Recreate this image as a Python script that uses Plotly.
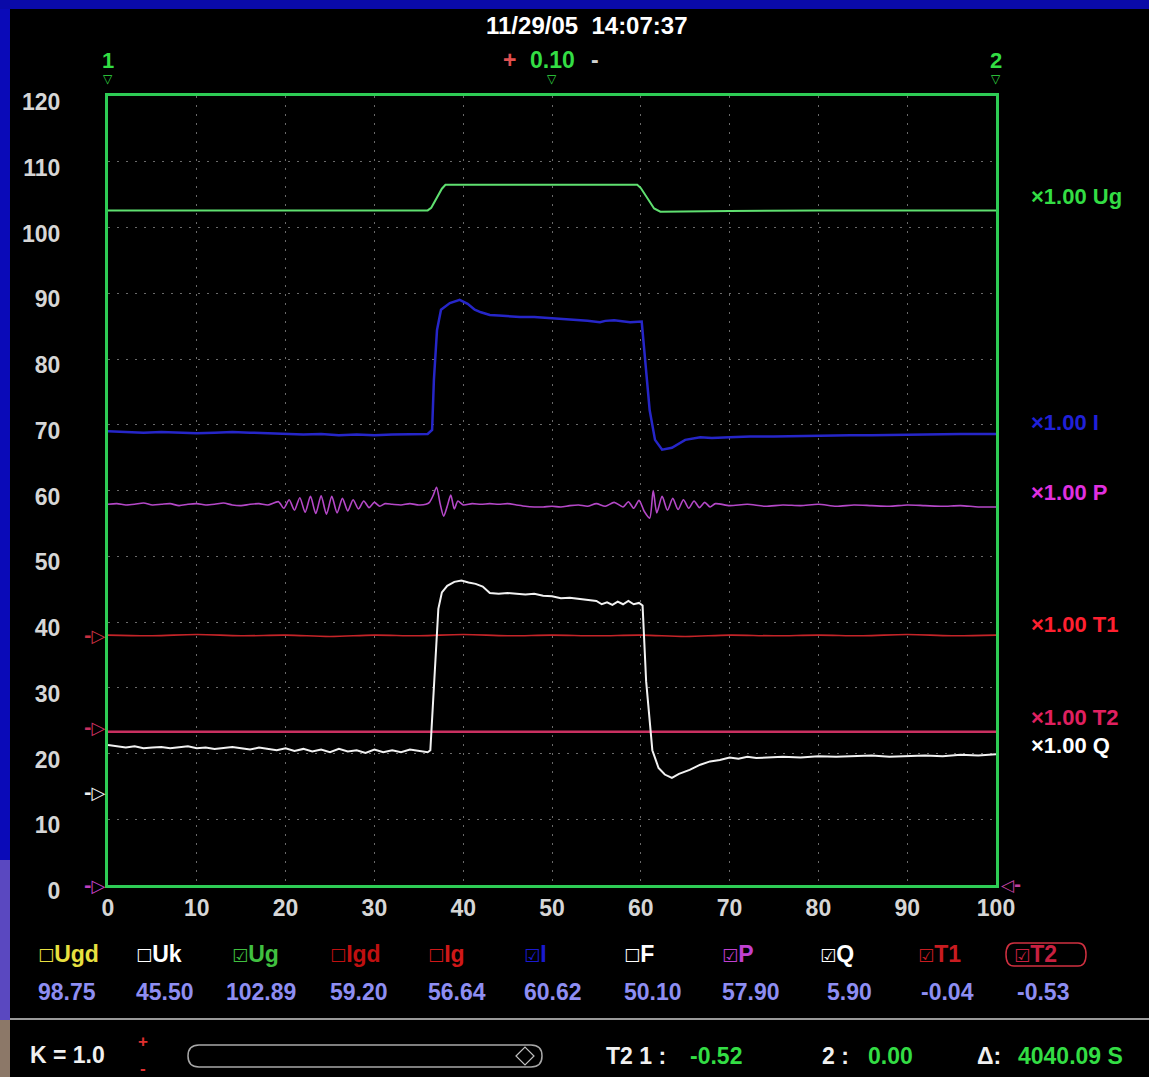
import plotly.graph_objects as go

# ---------------- data ----------------
x_ticks = [0, 10, 20, 30, 40, 50, 60, 70, 80, 90, 100]
y_ticks = [0, 10, 20, 30, 40, 50, 60, 70, 80, 90, 100, 110, 120]

ug_t = [0, 10, 20, 30, 36, 36.4, 36.8, 37.2, 37.6, 38.0, 40, 50, 59.6, 60.0, 60.5, 61.0, 61.5, 62.2, 65, 70, 80, 90, 100]
ug_v = [102.6, 102.6, 102.6, 102.6, 102.6, 103.0, 104.0, 105.0, 105.9, 106.5, 106.5, 106.5, 106.5, 106.0, 105.0, 103.8, 102.9, 102.4, 102.4, 102.5, 102.6, 102.6, 102.6]

i_t = [0, 2, 4, 6, 8, 10, 12, 14, 16, 18, 20, 22, 24, 26, 28, 30, 32, 34, 36,
       36.5, 36.7, 37.05, 37.5, 38.5, 39.6, 40.5, 41.3, 42, 43, 44, 46.4, 48, 50, 52, 53.2, 54, 55.4, 56, 57,
       58, 58.8, 60.1, 60.5, 61, 61.6, 62.4, 63.5, 65, 66.7, 68, 70, 72.3, 75, 78, 80, 83.6, 86, 90, 93, 96, 100]
i_v = [69.0, 68.9, 68.8, 68.9, 68.8, 68.7, 68.8, 68.9, 68.8, 68.7, 68.6, 68.5, 68.6, 68.4, 68.5, 68.4, 68.5, 68.5, 68.6,
       69.2, 76.8, 84.4, 87.5, 88.5, 89.0, 88.4, 87.5, 87.1, 86.7, 86.6, 86.4, 86.4, 86.2, 86.1, 85.9, 85.8, 85.6, 85.8, 85.9,
       85.7, 85.6, 85.7, 79.8, 72.2, 67.7, 66.2, 66.5, 67.7, 68.1, 68.0, 68.1, 68.2, 68.2, 68.3, 68.3, 68.4, 68.4, 68.5, 68.5, 68.6, 68.6]

p_t = [0, 1, 2, 3, 4, 5, 6, 7, 8, 9, 10, 11, 12, 13, 14, 15, 16, 17, 18,
       19.2, 19.8, 20.4, 21.0, 21.6, 22.2, 22.8, 23.4, 24.0, 24.6, 25.2, 25.8, 26.4, 27.0, 27.6, 28.2, 28.8, 29.4, 30.0, 30.6, 31.2,
       32, 33, 34, 35, 35.8,
       36.2, 36.6, 37.0, 37.4, 37.8, 38.2, 38.6, 39.0, 39.4, 40,
       41, 42, 43, 44, 45, 46, 47, 48, 49, 50, 51, 52, 53, 54, 55, 56, 57, 58,
       58.6, 59.2, 59.8, 60.4, 61.0, 61.4, 61.8, 62.4, 63.0, 63.6, 64.2, 64.8, 65.4, 66.0, 66.6, 67.2, 67.8, 68.4,
       70, 72, 74, 76, 78, 80, 82, 84, 86, 88, 90, 92, 94, 96, 98, 100]
p_v = [57.9, 58.0, 57.8, 57.9, 58.1, 57.8, 57.9, 58.0, 57.7, 57.9, 58.0, 57.8, 57.9, 58.1, 57.8, 57.7, 57.9, 58.0, 57.8,
       58.3, 57.3, 58.6, 57.0, 58.9, 56.7, 59.1, 56.5, 59.2, 56.4, 59.1, 56.6, 58.8, 56.9, 58.6, 57.2, 58.4, 57.4, 58.2, 57.6, 58.0,
       57.9, 57.8, 58.0, 57.8, 57.9,
       58.2, 59.2, 60.5, 58.0, 56.1, 57.6, 59.3, 57.2, 58.4, 57.8,
       58.0, 57.9, 58.0, 57.9, 58.0, 57.8, 57.6, 57.5, 57.5, 57.6, 57.5, 57.7, 57.8, 57.6, 58.0, 57.6, 58.2, 57.5,
       58.3, 57.3, 58.5, 56.8, 55.8, 60.0, 56.6, 59.1, 57.0, 58.8, 57.1, 58.6, 57.3, 58.4, 57.4, 58.2, 57.5, 58.0,
       57.7, 57.9, 57.6, 57.8, 57.7, 57.9, 57.6, 57.8, 57.7, 57.6, 57.8, 57.7, 57.6, 57.7, 57.5, 57.5]

q_t = [0, 0.5, 1, 2, 3, 4, 5, 6, 7, 8, 9, 10, 11, 12, 13, 14, 15, 16, 17, 18, 19, 20,
       21, 22, 23, 24, 25, 26, 27, 28, 29, 30, 31, 32, 33, 34, 35, 36,
       36.3, 36.6, 36.9, 37.2, 37.6, 38.2, 39, 39.8, 40.6, 41.4, 42.2, 43, 44, 45, 46, 47, 48, 49, 50,
       51, 52, 53, 54, 55, 55.6, 56.2, 56.8, 57.4, 58, 58.6, 59.2, 59.8, 60.2,
       60.6, 61.3, 62, 62.7, 63.5, 64.3, 65.5, 66.7, 67.8, 68.9, 70, 71, 72, 73, 74,
       76, 78, 80, 82, 84, 86, 88, 90, 92, 94, 96, 98, 100]
q_v = [21.3, 21.2, 21.0, 20.9, 21.1, 20.8, 20.9, 21.0, 20.8, 20.9, 21.1, 20.8, 20.9, 20.7, 20.9, 21.0, 20.8, 20.6, 20.9, 20.7, 20.5, 20.8,
       20.4, 20.7, 20.3, 20.6, 20.2, 20.7, 20.3, 20.5, 20.1, 20.6, 20.2, 20.5, 20.2, 20.6, 20.4, 20.2,
       20.5, 28.0, 36.0, 42.0, 44.5, 45.5, 46.1, 46.3, 46.0, 45.8, 45.4, 44.4, 44.3, 44.4, 44.3, 44.2, 44.3, 44.0, 43.9,
       43.6, 43.7, 43.5, 43.4, 43.2, 42.7, 43.0, 42.6, 43.1, 42.7, 43.2, 42.7, 42.9, 42.5,
       31.0, 20.5, 17.8, 16.8, 16.3, 16.9, 17.5, 18.3, 18.8, 19.0, 19.4, 19.2, 19.5, 19.3, 19.4,
       19.5, 19.4, 19.6, 19.5, 19.6, 19.7, 19.5, 19.6, 19.7, 19.6, 19.8, 19.7, 19.9]

t1_t = [0, 5, 10, 15, 20, 25, 30, 35, 40, 45, 50, 55, 60, 65, 70, 75, 80, 85, 90, 95, 100]
t1_v = [38.0, 37.9, 38.1, 37.9, 38.0, 37.8, 38.0, 37.9, 38.1, 37.9, 38.0, 37.9, 38.0, 37.8, 38.0, 37.9, 38.0, 37.9, 38.1, 37.9, 38.0]

t2_t = [0, 100]
t2_v = [23.3, 23.3]

# channel reference offsets (left arrows)
ref_levels = [38.0, 24.0, 14.0, 0.0]

legend_names = ["Ugd", "Uk", "Ug", "Igd", "Ig", "I", "F", "P", "Q", "T1", "T2"]
legend_checked = [False, False, True, False, False, True, False, True, True, True, True]
legend_values = ["98.75", "45.50", "102.89", "59.20", "56.64", "60.62", "50.10", "57.90", "5.90", "-0.04", "-0.53"]

right_labels = ["×1.00 Ug", "×1.00 I", "×1.00 P", "×1.00 T1", "×1.00 T2", "×1.00 Q"]

header_text = "11/29/05  14:07:37"

# ---------------- styling ----------------
W, H = 1149, 1077
L, R, T, B = 108, 996, 96, 885
FONT = "Liberation Sans, Arial, sans-serif"
SYM = "DejaVu Sans"


def pxx(x):
    return (x - L) / (R - L)


def pyy(y):
    return (B - y) / (B - T)


def rounded(x0, x1, y0, y1, r):
    ym = (y0 + y1) / 2
    return (f"M {pxx(x0 + r)},{pyy(y0)} L {pxx(x1 - r)},{pyy(y0)} Q {pxx(x1)},{pyy(y0)} {pxx(x1)},{pyy(ym)} "
            f"Q {pxx(x1)},{pyy(y1)} {pxx(x1 - r)},{pyy(y1)} L {pxx(x0 + r)},{pyy(y1)} "
            f"Q {pxx(x0)},{pyy(y1)} {pxx(x0)},{pyy(ym)} Q {pxx(x0)},{pyy(y0)} {pxx(x0 + r)},{pyy(y0)} Z")


C_UG = "#5fe070"
C_I = "#2626c8"
C_P = "#b548c8"
C_T1 = "#c42428"
C_T2 = "#c93060"
C_Q = "#f2f2f2"
C_GREEN_TXT = "#33dd44"
C_VAL = "#8e8ef2"

fig = go.Figure()

fig.add_trace(go.Scatter(x=t2_t, y=t2_v, mode="lines", line=dict(color=C_T2, width=2.5), hoverinfo="skip"))
fig.add_trace(go.Scatter(x=t1_t, y=t1_v, mode="lines", line=dict(color=C_T1, width=1.6, shape="spline"), hoverinfo="skip"))
fig.add_trace(go.Scatter(x=p_t, y=p_v, mode="lines", line=dict(color=C_P, width=1.6, shape="spline", smoothing=0.7), hoverinfo="skip"))
fig.add_trace(go.Scatter(x=i_t, y=i_v, mode="lines", line=dict(color=C_I, width=2.5), hoverinfo="skip"))
fig.add_trace(go.Scatter(x=ug_t, y=ug_v, mode="lines", line=dict(color=C_UG, width=2), hoverinfo="skip"))
fig.add_trace(go.Scatter(x=q_t, y=q_v, mode="lines", line=dict(color=C_Q, width=2), hoverinfo="skip"))

shapes = []
# outer blue frame
shapes.append(dict(type="rect", xref="paper", yref="paper", x0=pxx(0), x1=pxx(10), y0=pyy(0), y1=pyy(860),
                   fillcolor="#0a0ab8", line=dict(width=0), layer="below"))
shapes.append(dict(type="rect", xref="paper", yref="paper", x0=pxx(0), x1=pxx(10), y0=pyy(860), y1=pyy(1020),
                   fillcolor="#5a48c0", line=dict(width=0), layer="below"))
shapes.append(dict(type="rect", xref="paper", yref="paper", x0=pxx(0), x1=pxx(10), y0=pyy(1020), y1=pyy(1077),
                   fillcolor="#8c7868", line=dict(width=0), layer="below"))
shapes.append(dict(type="rect", xref="paper", yref="paper", x0=pxx(0), x1=pxx(1149), y0=pyy(0), y1=pyy(9),
                   fillcolor="#0a0aa8", line=dict(width=0), layer="below"))
# separator above status bar
shapes.append(dict(type="line", xref="paper", yref="paper", x0=pxx(10), x1=pxx(1149), y0=pyy(1019), y1=pyy(1019),
                   line=dict(color="#9a9a9a", width=2)))
# slider
shapes.append(dict(type="path", xref="paper", yref="paper", path=rounded(188, 542, 1045, 1067, 11),
                   line=dict(color="#a8a8a8", width=1.5)))
shapes.append(dict(type="path", xref="paper", yref="paper",
                   path=f"M {pxx(516)},{pyy(1056)} L {pxx(525)},{pyy(1047)} L {pxx(534)},{pyy(1056)} L {pxx(525)},{pyy(1065)} Z",
                   line=dict(color="#c0c0c0", width=1.2)))
# T2 legend frame
shapes.append(dict(type="path", xref="paper", yref="paper", path=rounded(1006, 1086, 943, 966, 8),
                   line=dict(color="#d03040", width=1.5)))

ann = []


def txt(x, y, s, color, size=23, anchor="left", weight="bold", family=FONT):
    ann.append(dict(xref="paper", yref="paper", x=pxx(x), y=pyy(y), text=s, showarrow=False,
                    xanchor=anchor, yanchor="middle", font=dict(family=family, size=size, color=color, weight=weight)))


txt(587, 26, header_text, "#ffffff", 24, "center")
# top markers (x referenced)
for xv, lab in [(0, "1"), (100, "2")]:
    ann.append(dict(xref="x", yref="paper", x=xv, y=pyy(60), text=lab, showarrow=False, xanchor="center",
                    yanchor="middle", font=dict(family=FONT, size=22, color=C_GREEN_TXT, weight="bold")))
for xv in [0, 50, 100]:
    ann.append(dict(xref="x", yref="paper", x=xv, y=pyy(79), text="▽", showarrow=False, xanchor="center",
                    yanchor="middle", font=dict(family=SYM, size=12, color=C_GREEN_TXT)))
txt(509, 60, "+", "#e05050", 23, "center")
txt(552, 60, "0.10", C_GREEN_TXT, 23, "center")
txt(595, 60, "-", "#d0d0d0", 23, "center")

# left reference arrows (y follows the data axis)
ref_colors = ["#c83040", "#c83060", "#f0f0f0", "#c040c0"]
for lvl, col in zip(ref_levels, ref_colors):
    ann.append(dict(xref="paper", yref="y", x=pxx(107), y=lvl, text="-▷", showarrow=False, xanchor="right",
                    yanchor="middle", font=dict(family=SYM, size=18, color=col, weight="bold")))
ann.append(dict(xref="paper", yref="y", x=pxx(999), y=0, text="◁-", showarrow=False, xanchor="left",
                yanchor="middle", font=dict(family=SYM, size=17, color="#c040a0", weight="bold")))

# right channel labels
right_y = [197, 422, 492, 624, 717, 745]
right_c = ["#33dd44", "#2020d8", "#e030e0", "#ff2030", "#e02060", "#ffffff"]
for s, yy, c in zip(right_labels, right_y, right_c):
    txt(1029, yy, s, c, 22)

# bottom legend
leg_x = [36, 134, 230, 328, 426, 522, 622, 720, 818, 916, 1012]
leg_c = ["#e8e040", "#ffffff", "#40c040", "#c01010", "#d01818", "#1a1ad0", "#ffffff", "#c040d0", "#ffffff", "#c81c20", "#c82040"]
for x0, name, chk, c, val in zip(leg_x, legend_names, legend_checked, leg_c, legend_values):
    box = "☑" if chk else "☐"
    ann.append(dict(xref="paper", yref="paper", x=pxx(x0), y=pyy(954), showarrow=False, xanchor="left", yanchor="middle",
                    text=f"<span style='font-family:DejaVu Sans;font-size:18px'>{box}</span>{name}",
                    font=dict(family=FONT, size=23, color=c, weight="bold")))
    txt(x0 + 31, 992, val, C_VAL, 23, "center")

# status bar
txt(28, 1055, "K = 1.0", "#f0f0f0", 23)
txt(143, 1041, "+", "#e03030", 17, "center")
txt(143, 1068, "-", "#e03030", 17, "center")
txt(604, 1056, "T2 1 :", "#f0f0f0", 23)
txt(688, 1056, "-0.52", C_GREEN_TXT, 23)
txt(820, 1056, "2 :", "#f0f0f0", 23)
txt(866, 1056, "0.00", C_GREEN_TXT, 23)
txt(975, 1056, "Δ:", "#f0f0f0", 23)
txt(1016, 1056, "4040.09 S", C_GREEN_TXT, 23)

axis_common = dict(showgrid=True, gridcolor="#6a6a6a", gridwidth=1, griddash="2px,7px", zeroline=False,
                   showline=True, linecolor="#2ecc55", linewidth=3, mirror=True, ticks="",
                   tickfont=dict(family=FONT, size=23, color="#d6d6d6", weight="bold"), fixedrange=True)

fig.update_layout(
    width=W, height=H,
    margin=dict(l=L, r=W - R, t=T, b=H - B, pad=0),
    paper_bgcolor="#000000", plot_bgcolor="#000000",
    showlegend=False,
    xaxis=dict(range=[0, 100], tickvals=x_ticks, ticklabelstandoff=0, **axis_common),
    yaxis=dict(range=[0, 120], tickvals=y_ticks, ticklabelstandoff=40, ticklabelshift=6, **axis_common),
    shapes=shapes,
    annotations=ann,
)

fig.write_html("out.html", config={"displayModeBar": False},
               post_script="document.body.style.margin='0';document.body.style.background='#000';")
